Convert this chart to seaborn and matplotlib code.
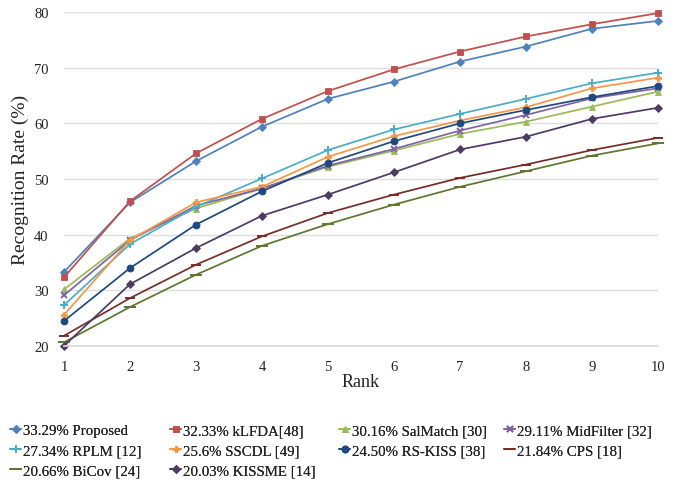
import numpy as np
import pandas as pd
import matplotlib
matplotlib.use("Agg")
import matplotlib.pyplot as plt
import seaborn as sns

ranks = [1, 2, 3, 4, 5, 6, 7, 8, 9, 10]
methods = ["33.29% Proposed", "32.33% kLFDA[48]", "30.16% SalMatch [30]", "29.11% MidFilter [32]",
           "27.34% RPLM [12]", "25.6% SSCDL [49]", "24.50% RS-KISS [38]", "21.84% CPS [18]",
           "20.66% BiCov [24]", "20.03% KISSME [14]"]
proposed = [33.29, 45.8, 53.2, 59.4, 64.4, 67.5, 71.1, 73.8, 77.0, 78.4]
klfda    = [32.33, 46.0, 54.6, 60.8, 65.8, 69.7, 72.9, 75.6, 77.8, 79.8]
salmatch = [30.16, 39.3, 44.7, 48.3, 52.2, 55.1, 58.1, 60.3, 63.0, 65.7]
midfilter= [29.11, 39.0, 45.2, 48.3, 52.4, 55.4, 58.7, 61.5, 64.5, 66.3]
rplm     = [27.34, 38.3, 45.0, 50.1, 55.2, 58.9, 61.7, 64.4, 67.2, 69.1]
sscdl    = [25.6, 39.0, 45.8, 48.6, 54.0, 57.7, 60.5, 62.9, 66.3, 68.2]
rskiss   = [24.50, 34.0, 41.8, 47.8, 52.9, 56.8, 60.0, 62.4, 64.7, 66.7]
cps      = [21.84, 28.6, 34.6, 39.7, 43.9, 47.2, 50.2, 52.6, 55.2, 57.4]
bicov    = [20.66, 27.0, 32.8, 38.0, 41.9, 45.4, 48.6, 51.4, 54.2, 56.4]
kissme   = [20.03, 31.1, 37.6, 43.4, 47.2, 51.2, 55.3, 57.6, 60.8, 62.8]
series = [proposed, klfda, salmatch, midfilter, rplm, sscdl, rskiss, cps, bicov, kissme]

colors = ["#4F81BD", "#C0504D", "#9BBB59", "#8064A2", "#4BACC6", "#F79646",
          "#1F497D", "#772C2A", "#5F7530", "#4D3B62"]
markers = ["D", "s", "^", "x", "+", "P", "o", "_", "_", "D"]
msizes = [4, 5, 4.5, 4.5, 5.5, 4.5, 5, 7, 9, 4.5]

sns.set_theme(style="white")
plt.rcParams["font.family"] = ["Liberation Serif", "DejaVu Serif"]

fig = plt.figure(figsize=(6.8, 4.89), dpi=100)
ax = fig.add_axes([64/680, 1-347/489, (658-64)/680, (347-13)/489])

for m, vals, c, mk, ms in zip(methods, series, colors, markers, msizes):
    d = pd.DataFrame({"Rank": ranks, "Rate": vals})
    sns.lineplot(data=d, x="Rank", y="Rate", color=c, marker=mk, markersize=ms,
                 markeredgewidth=1.4 if mk in ("x", "+", "_") else 0.6,
                 markeredgecolor=c, linewidth=1.25, label=m, ax=ax, clip_on=False)

ax.set_xlim(1, 10)
ax.set_ylim(20, 80)
ax.set_xticks(ranks)
ax.set_yticks(range(20, 81, 10))
ax.yaxis.grid(True, color="#DDDDDD", linewidth=1)
ax.xaxis.grid(False)
for s in ["top", "right", "left"]:
    ax.spines[s].set_visible(False)
ax.spines["bottom"].set_color("#DDDDDD")
ax.tick_params(axis="x", labelsize=10.5, length=0, colors="#222222", pad=10)
ax.tick_params(axis="y", labelsize=10.5, length=0, colors="#222222", pad=11)
ax.set_xlabel("Rank", fontsize=13, color="#222222", labelpad=0)
ax.set_ylabel("Recognition Rate (%)", fontsize=14, color="#222222", labelpad=4)

handles, labels = ax.get_legend_handles_labels()
ax.legend_.remove()
columns = [[0, 4, 8], [1, 5, 9], [2, 6], [3, 7]]
col_x = [4, 164, 333, 498]
for idx, cx in zip(columns, col_x):
    leg = fig.legend([handles[i] for i in idx], [labels[i] for i in idx],
                     loc="upper left", bbox_to_anchor=(cx / 680, 1 - 419/489),
                     ncol=1, frameon=False, fontsize=10.7, handlelength=0.75,
                     handletextpad=0.15, labelspacing=0.45, borderaxespad=0.0)
    for t in leg.get_texts():
        t.set_color("#222222")
    fig.add_artist(leg)

fig.savefig("out.png", dpi=100)
